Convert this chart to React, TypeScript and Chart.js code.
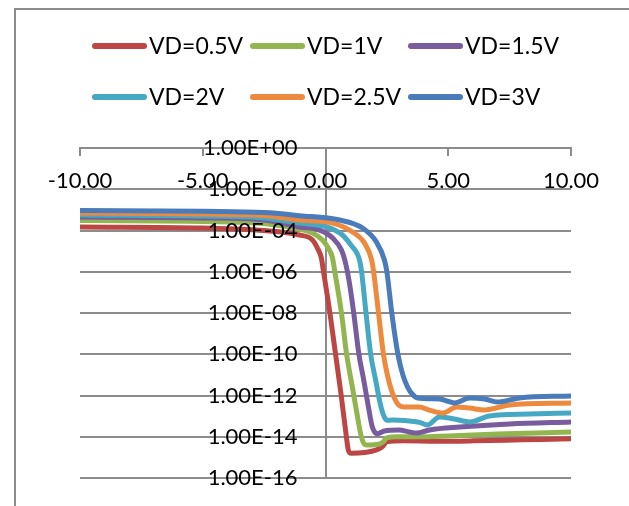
import React, { useEffect, useRef } from 'react';
import { Chart, registerables } from 'chart.js';

Chart.register(...registerables);

// Drain current vs gate voltage, one curve per drain bias
const SERIES_LABELS = ['VD=0.5V', 'VD=1V', 'VD=1.5V', 'VD=2V', 'VD=2.5V', 'VD=3V'];
const SERIES_COLORS = ['#BB4643', '#92B550', '#785C9E', '#46A8C2', '#EE8A3E', '#4A7BBA'];

const VG_05 = [-10, -5, -2.5, -1.06, -0.53, -0.33, -0.17, -0.08, 0.18, 0.41, 0.64, 0.85, 0.93, 1.05, 2.05, 2.3, 2.5, 3.2, 4.5, 6.0, 8.0, 10];
const ID_05 = [1.48e-4, 1.32e-4, 1.0e-4, 6.03e-5, 3.47e-5, 1.41e-5, 4.68e-6, 1.0e-6, 1.0e-8, 1.0e-10, 1.0e-12, 1.0e-14, 2.24e-15, 1.58e-15, 2.24e-15, 3.16e-15, 5.62e-15, 6.31e-15, 6.03e-15, 6.31e-15, 7.08e-15, 7.94e-15];

const VG_10 = [-10, -5, -2.5, -1.06, -0.53, -0.12, 0.16, 0.28, 0.38, 0.65, 0.86, 1.08, 1.27, 1.45, 1.55, 1.7, 2.2, 2.35, 2.5, 2.9, 3.8, 5.0, 7.0, 10];
const ID_10 = [3.02e-4, 2.75e-4, 2.19e-4, 1.17e-4, 7.59e-5, 3.47e-5, 1.12e-5, 5.01e-6, 1.0e-6, 1.0e-8, 1.0e-10, 3.16e-12, 1.58e-13, 1.12e-14, 5.01e-15, 3.98e-15, 4.47e-15, 5.62e-15, 8.91e-15, 1.0e-14, 1.0e-14, 1.1e-14, 1.35e-14, 1.7e-14];

const VG_15 = [-10, -5, -2.5, -1.06, -0.24, 0.29, 0.65, 0.82, 0.97, 1.15, 1.36, 1.55, 1.74, 1.9, 2.02, 2.12, 2.4, 3.0, 3.42, 3.71, 4.24, 5.46, 7.5, 10];
const ID_15 = [4.47e-4, 4.07e-4, 3.24e-4, 1.48e-4, 1.05e-4, 4.37e-5, 1.12e-5, 2.51e-6, 3.16e-7, 1.0e-8, 1.0e-10, 6.31e-12, 3.16e-13, 3.16e-14, 1.58e-14, 1.41e-14, 1.91e-14, 2.14e-14, 1.7e-14, 1.51e-14, 2.14e-14, 2.95e-14, 4.17e-14, 5.25e-14];

const VG_20 = [-10, -5, -2.5, -1.06, 0.04, 0.69, 1.1, 1.28, 1.39, 1.47, 1.65, 1.84, 2.05, 2.25, 2.4, 2.52, 2.7, 3.42, 3.83, 4.15, 4.64, 5.25, 5.87, 6.68, 8.3, 10];
const ID_20 = [5.62e-4, 5.01e-4, 4.07e-4, 2.29e-4, 1.48e-4, 6.03e-5, 1.58e-5, 7.94e-6, 3.55e-6, 1.0e-6, 1.0e-8, 1.0e-10, 5.01e-12, 3.16e-13, 8.91e-14, 6.31e-14, 6.46e-14, 5.75e-14, 5.01e-14, 3.72e-14, 9.12e-14, 7.24e-14, 5.25e-14, 1.02e-13, 1.26e-13, 1.41e-13];

const VG_25 = [-10, -5, -2.5, -1.06, 0.29, 1.1, 1.59, 1.88, 1.96, 2.16, 2.36, 2.52, 2.7, 2.88, 3.02, 3.2, 3.83, 4.2, 4.77, 5.34, 5.87, 6.48, 7.5, 10];
const ID_25 = [7.08e-4, 6.31e-4, 5.37e-4, 3.24e-4, 2.29e-4, 8.51e-5, 2.45e-5, 3.72e-6, 1.0e-6, 1.0e-8, 1.0e-10, 1.0e-11, 1.58e-12, 5.01e-13, 3.16e-13, 2.75e-13, 2.75e-13, 2.0e-13, 1.41e-13, 2.75e-13, 2.45e-13, 2.0e-13, 3.47e-13, 4.37e-13];

const VG_30 = [-10, -5, -2.5, -1.06, 0.57, 1.51, 2.07, 2.4, 2.5, 2.7, 2.95, 3.15, 3.35, 3.55, 3.75, 4.64, 5.25, 5.87, 6.48, 7.0, 7.9, 10];
const ID_30 = [9.33e-4, 8.51e-4, 7.41e-4, 5.25e-4, 3.24e-4, 1.32e-4, 2.82e-5, 3.72e-6, 1.0e-6, 1.0e-8, 1.0e-10, 1.0e-11, 2.51e-12, 1.12e-12, 7.59e-13, 6.76e-13, 4.37e-13, 7.59e-13, 6.76e-13, 4.79e-13, 7.59e-13, 9.55e-13];

const VG_SERIES = [VG_05, VG_10, VG_15, VG_20, VG_25, VG_30];
const ID_SERIES = [ID_05, ID_10, ID_15, ID_20, ID_25, ID_30];

const X_MIN = -10;
const X_MAX = 10;
const X_STEP = 5;
const Y_TICKS = [1e-16, 1e-14, 1e-12, 1e-10, 1e-8, 1e-6, 1e-4, 1e-2, 1];

const FONT_FAMILY = 'Lato, "Open Sans", sans-serif';
const AXIS_GRAY = '#8c8c8c';

const formatSci = (v: number) => {
  const [mant, exp] = Number(v).toExponential(2).split('e');
  const n = parseInt(exp, 10);
  return `${mant}E${n < 0 ? '-' : '+'}${String(Math.abs(n)).padStart(2, '0')}`;
};

// White background and the outer chart frame
const framePlugin = {
  id: 'chartFrame',
  beforeDraw(chart: any) {
    const { ctx, width, height } = chart;
    ctx.save();
    ctx.fillStyle = '#ffffff';
    ctx.fillRect(0, 0, width, height);
    ctx.strokeStyle = AXIS_GRAY;
    ctx.lineWidth = 2;
    ctx.strokeRect(15, 9, width + 40, height + 40);
    ctx.restore();
  },
};

// Legend laid out as a fixed three-column grid
const gridLegendPlugin = {
  id: 'gridLegend',
  afterDraw(chart: any, _args: any, opts: any) {
    const { ctx } = chart;
    ctx.save();
    chart.data.datasets.forEach((ds: any, i: number) => {
      const col = i % opts.columns;
      const row = Math.floor(i / opts.columns);
      const x = opts.left + col * opts.colWidth;
      const y = opts.top + row * opts.rowHeight;
      ctx.strokeStyle = ds.borderColor;
      ctx.lineWidth = opts.lineWidth;
      ctx.lineCap = 'round';
      ctx.beginPath();
      ctx.moveTo(x + opts.lineWidth / 2, y);
      ctx.lineTo(x + opts.sampleLength - opts.lineWidth / 2, y);
      ctx.stroke();
      ctx.fillStyle = '#000000';
      ctx.font = `${opts.fontSize}px ${FONT_FAMILY}`;
      ctx.textAlign = 'left';
      ctx.textBaseline = 'middle';
      ctx.fillText(ds.label, x + opts.sampleLength + 2, y + 1);
    });
    ctx.restore();
  },
};

export default function App() {
  const canvasRef = useRef<HTMLCanvasElement | null>(null);

  useEffect(() => {
    const canvas = canvasRef.current;
    if (!canvas) return;

    const datasets = SERIES_LABELS.map((label, i) => ({
      label,
      data: VG_SERIES[i].map((vg, j) => ({ x: vg, y: ID_SERIES[i][j] })),
      borderColor: SERIES_COLORS[i],
      backgroundColor: SERIES_COLORS[i],
      borderWidth: 5,
      pointRadius: 0,
      fill: false,
      cubicInterpolationMode: 'monotone' as const,
      borderCapStyle: 'round' as const,
      borderJoinStyle: 'round' as const,
      order: SERIES_LABELS.length - i,
    }));

    const chart = new Chart(canvas, {
      type: 'line',
      data: { datasets },
      options: {
        responsive: false,
        animation: false,
        devicePixelRatio: 1,
        layout: { padding: { left: 80, right: 58, top: 148, bottom: 28 } },
        plugins: {
          legend: { display: false },
          tooltip: { enabled: false },
          gridLegend: {
            columns: 3,
            left: 92,
            colWidth: 158,
            top: 46,
            rowHeight: 51,
            sampleLength: 55,
            lineWidth: 6,
            fontSize: 23,
          },
        } as any,
        scales: {
          x: {
            type: 'linear',
            min: X_MIN,
            max: X_MAX,
            position: { y: 1 } as any,
            ticks: {
              stepSize: X_STEP,
              autoSkip: false,
              maxRotation: 0,
              padding: 13,
              color: '#000000',
              font: { family: FONT_FAMILY, size: 22 },
              callback: (v: any) => Number(v).toFixed(2),
              z: 1,
            },
            grid: {
              color: (ctx: any) => (ctx.tick && ctx.tick.value === 0 ? AXIS_GRAY : 'rgba(0,0,0,0)'),
              tickColor: AXIS_GRAY,
              lineWidth: 2,
              tickLength: 7,
            },
            border: { color: AXIS_GRAY, width: 2 },
          },
          y: {
            type: 'logarithmic',
            min: Y_TICKS[0],
            max: Y_TICKS[Y_TICKS.length - 1],
            position: { x: -1.14 } as any,
            afterBuildTicks: (scale: any) => {
              scale.ticks = Y_TICKS.map((v) => ({ value: v }));
            },
            ticks: {
              autoSkip: false,
              color: '#000000',
              font: { family: FONT_FAMILY, size: 22 },
              callback: (v: any) => formatSci(Number(v)),
              z: 1,
            },
            grid: { color: AXIS_GRAY, lineWidth: 2, drawTicks: false },
            border: { display: false },
          },
        },
      },
      plugins: [framePlugin, gridLegendPlugin],
    });

    return () => chart.destroy();
  }, []);

  return (
    <div style={{ position: 'fixed', left: 0, top: 0, width: 629, height: 506, background: '#ffffff' }}>
      <canvas ref={canvasRef} width={629} height={506} style={{ display: 'block' }} />
    </div>
  );
}
